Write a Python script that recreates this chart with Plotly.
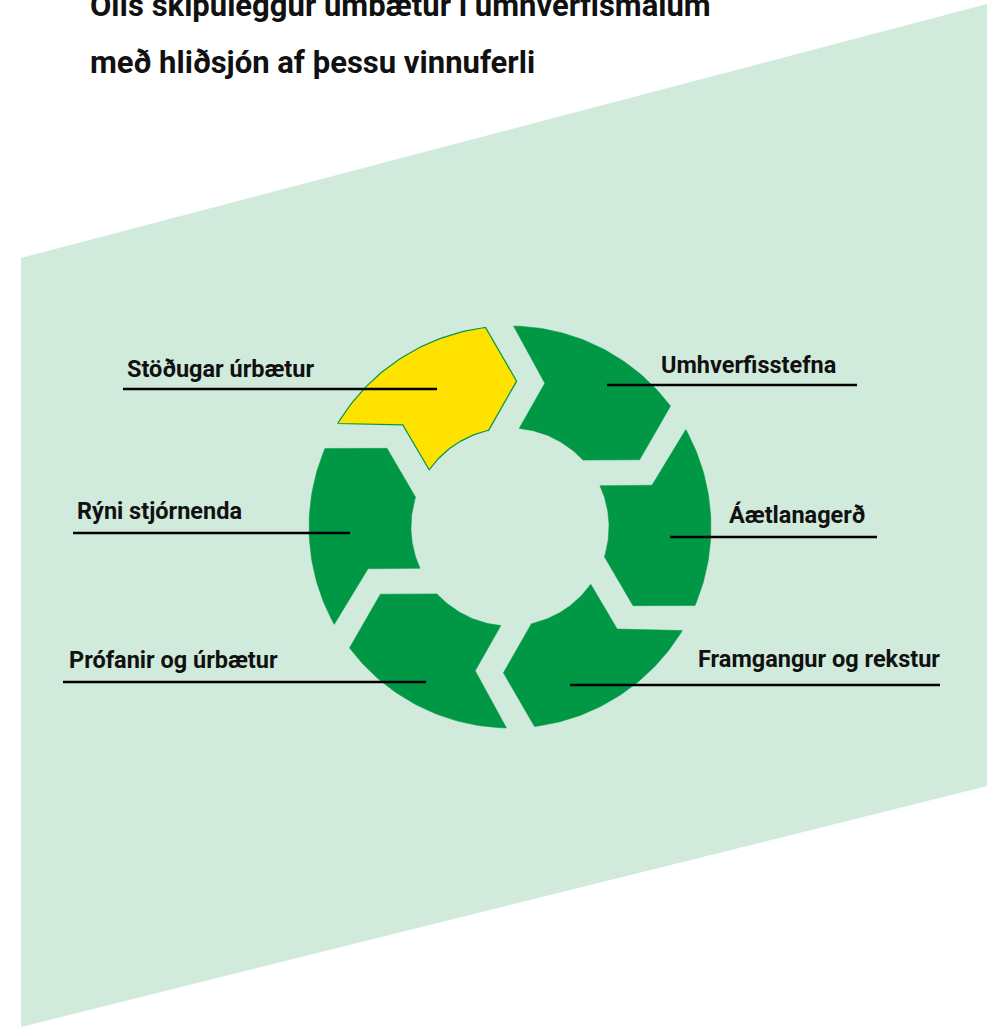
import numpy as np
import plotly.graph_objects as go

# ---- data ----
title_lines = ["Olís skipuleggur umbætur í umhverfismálum", "með hliðsjón af þessu vinnuferli"]
steps = ["Umhverfisstefna", "Áætlanagerð", "Framgangur og rekstur",
         "Prófanir og úrbætur", "Rýni stjórnenda", "Stöðugar úrbætur"]
highlight = [False, False, False, False, False, True]

# ---- layout / style parameters ----
W, H = 992, 1028
GREEN = "#009845"
YELLOW = "#FFE200"
BG = "#D0EADB"
CX, CY = 510, 527
R_OUT, R_IN, R_MID = 201, 99, 148
SEG = 360 / len(steps)

bg_poly_x = [21, 987, 987, 21]
bg_poly_y = [258, 4, 786, 1027]

label_x = [660, 728, 697, 68, 76, 126]
label_base = [373, 523, 667, 668, 519, 377]
line_y = [385, 537, 685, 682, 533, 389]
line_x0 = [607, 670, 570, 63, 73, 123]
line_x1 = [857, 877, 940, 426, 350, 437]
FS = 23.5
TFS = 31

def pt(theta, r):
    t = np.radians(theta)
    return CX + r * np.sin(t), CY - r * np.cos(t)

def segment(k):
    t0 = k * SEG
    xs, ys = [], []
    for th, r in [(t0 + 1.0, R_OUT), (t0 + 13.6, R_MID), (t0 + 5.3, R_IN)]:
        x, y = pt(th, r); xs.append(x); ys.append(y)
    for th in np.linspace(t0 + 5.3, t0 + 47.5, 40):
        x, y = pt(th, R_IN); xs.append(x); ys.append(y)
    x, y = pt(t0 + 62.6, R_MID - 2); xs.append(x); ys.append(y)
    for th in np.linspace(t0 + 53.0, t0 + 1.0, 50):
        x, y = pt(th, R_OUT); xs.append(x); ys.append(y)
    xs.append(xs[0]); ys.append(ys[0])
    return xs, ys

fig = go.Figure()
fig.add_trace(go.Scatter(x=bg_poly_x + [bg_poly_x[0]], y=bg_poly_y + [bg_poly_y[0]],
                         fill="toself", fillcolor=BG, mode="lines",
                         line=dict(width=0, color=BG), hoverinfo="skip"))

for k, name in enumerate(steps):
    xs, ys = segment(k)
    hl = highlight[k]
    fig.add_trace(go.Scatter(x=xs, y=ys, fill="toself",
                             fillcolor=YELLOW if hl else GREEN, mode="lines",
                             line=dict(color=GREEN, width=1.2 if hl else 0.5),
                             name=name, hoverinfo="name"))

for k, name in enumerate(steps):
    fig.add_trace(go.Scatter(x=[line_x0[k], line_x1[k]], y=[line_y[k], line_y[k]],
                             mode="lines", line=dict(color="black", width=2.6),
                             hoverinfo="skip"))
    fig.add_annotation(x=label_x[k] - 1, y=label_base[k] - 0.36 * FS, xref="x", yref="y",
                       text=name, showarrow=False, xanchor="left", yanchor="middle",
                       font=dict(family="Roboto", size=FS, color="#111111", weight=700))

title_base = [17, 74]
for i, t in enumerate(title_lines):
    fig.add_annotation(x=88, y=title_base[i] - 0.36 * TFS, xref="x", yref="y",
                       text=t, showarrow=False, xanchor="left", yanchor="middle",
                       font=dict(family="Roboto", size=TFS, color="#111111", weight=700))

fig.update_layout(width=W, height=H, margin=dict(l=0, r=0, t=0, b=0),
                  paper_bgcolor="white", plot_bgcolor="white", showlegend=False,
                  xaxis=dict(range=[0, W], visible=False, fixedrange=True),
                  yaxis=dict(range=[H, 0], visible=False, fixedrange=True))
fig.write_html("out.html", config={"displayModeBar": False},
               post_script="document.body.style.margin='0';")
